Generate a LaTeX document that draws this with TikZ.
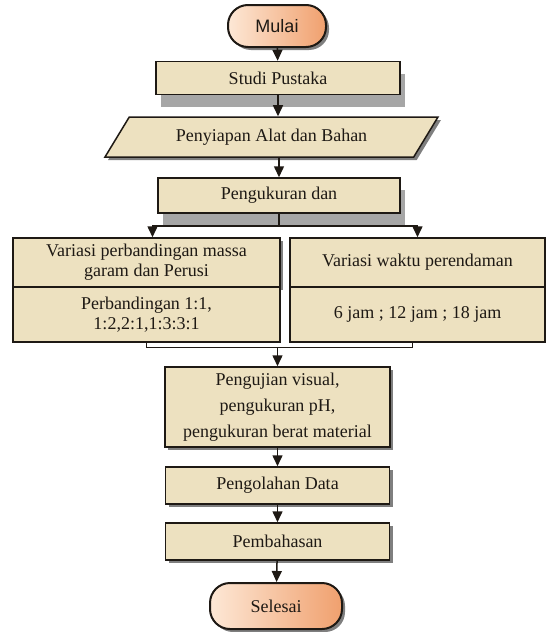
\documentclass[tikz,border=0pt]{standalone}
\usepackage{fontspec}
\setmainfont{Liberation Serif}
\newfontfamily\hurufsans{Liberation Sans}
\usetikzlibrary{arrows.meta,shadows,shapes.geometric}

\definecolor{kertas}{RGB}{237,225,192}
\definecolor{garis}{RGB}{30,25,20}
\definecolor{bayang}{RGB}{105,105,105}
\definecolor{oranyeA}{RGB}{253,232,214}
\definecolor{oranyeB}{RGB}{240,160,110}

\begin{document}
\begin{tikzpicture}[x=1pt,y=-1pt,
  font=\fontsize{18}{20}\selectfont,
  kotak/.style={draw=garis,line width=1.5pt,fill=kertas,align=center,inner sep=2pt,text=garis},
  bayangkecil/.style={drop shadow={shadow xshift=3pt,shadow yshift=-3pt,fill=bayang,opacity=0.85}},
  bayangbesar/.style={drop shadow={shadow xshift=5pt,shadow yshift=-12pt,fill=gray!70,opacity=1}},
  terminal/.style={draw=garis,line width=2pt,rounded corners=20pt,left color=oranyeA,right color=oranyeB,
    text=garis,bayangkecil},
  panah/.style={draw=garis,line width=1.5pt,-{Triangle[length=11pt,width=10pt]}},
  garis1/.style={draw=garis,line width=1.5pt}]

\useasboundingbox (0,0) rectangle (546,632);

% awal
\node[terminal,minimum width=98,minimum height=42] (mulai) at (277,26) {\hurufsans Mulai};
\node[kotak,bayangbesar,minimum width=244,minimum height=33] (studi) at (278,78) {Studi Pustaka};
\node[kotak,bayangkecil,trapezium,trapezium left angle=40,trapezium right angle=140,trapezium stretches body,
  minimum width=333,minimum height=40] (siap) at (271.5,137) {Penyiapan Alat dan Bahan};
\node[kotak,bayangbesar,minimum width=242,minimum height=35] (ukur) at (279,195.5) {Pengukuran dan};

% dua variasi
\node[kotak,bayangkecil,minimum width=267,minimum height=49] (kiri1) at (146.5,262.5)
  {Variasi perbandingan massa\\garam dan Perusi};
\node[kotak,minimum width=267,minimum height=55] (kiri2) at (146.5,314.5)
  {Perbandingan 1:1,\\1:2,2:1,1:3:3:1};
\node[kotak,bayangkecil,minimum width=255,minimum height=49] (kanan1) at (417.5,262.5)
  {Variasi waktu perendaman};
\node[kotak,minimum width=255,minimum height=55] (kanan2) at (417.5,314.5)
  {6 jam ; 12 jam ; 18 jam};

% akhir
\node[kotak,bayangkecil,minimum width=225,minimum height=80,font=\fontsize{18}{26}\selectfont] (uji) at (277.5,407)
  {Pengujian visual,\\pengukuran pH,\\pengukuran berat material};
\node[kotak,bayangkecil,minimum width=224,minimum height=37] (olah) at (277.5,485.5) {Pengolahan Data};
\node[kotak,bayangkecil,minimum width=224,minimum height=37] (bahas) at (277.5,541.5) {Pembahasan};
\node[terminal,minimum width=132,minimum height=46] (selesai) at (276,606) {Selesai};

% panah
\draw[panah] (mulai) -- (studi);
\draw[panah] (studi.south) -- (studi.south |- siap.north);
\draw[panah] (siap.south -| ukur) -- (ukur);
\coordinate (cabang) at ([yshift=-12pt]ukur.south);
\draw[garis1] (ukur) -- (cabang);
\draw[panah] (cabang) -| ([xshift=6pt]kiri1.north);
\draw[panah] (cabang) -| (kanan1);
\coordinate (gabung) at ([yshift=19pt]uji.north);
\draw[garis1] (kiri2) |- (gabung);
\draw[garis1] ([xshift=-5pt]kanan2.south) |- (gabung);
\draw[panah] (gabung) -- (uji);
\draw[panah] (uji) -- (olah);
\draw[panah] (olah) -- (bahas);
\draw[panah] (bahas) -- (selesai);
\end{tikzpicture}
\end{document}
